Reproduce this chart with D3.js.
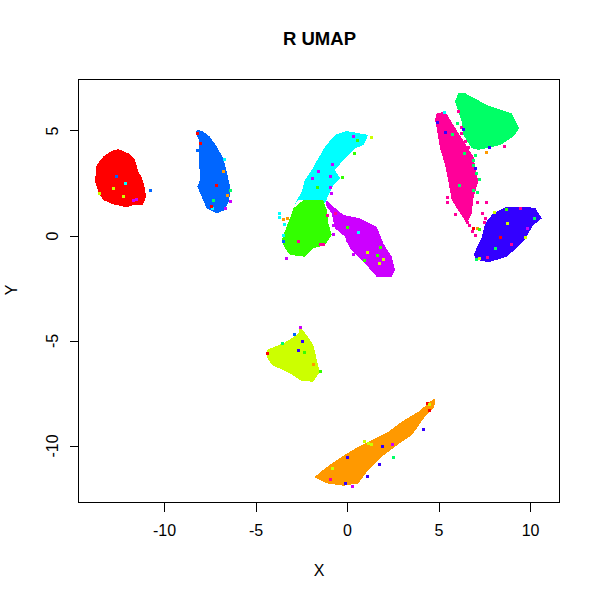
<!DOCTYPE html>
<html><head><meta charset="utf-8">
<script src="https://cdn.jsdelivr.net/npm/d3@7"></script>
<style>html,body{margin:0;background:#fff}svg{display:block}text{font-family:"Liberation Sans",Arial,sans-serif;fill:#000}</style>
</head><body><svg id="c" width="600" height="600"></svg>
<script>
const titleText = "R UMAP", xLabel = "X", yLabel = "Y";
const xTicks = [-10,-5,0,5,10], yTicks = [-10,-5,0,5];
const xDomain = [-14.67,11.58], yDomain = [-12.69,7.476];
// rainbow(10)
const palette = ["#FF0000","#FF9900","#CCFF00","#33FF00","#00FF66","#00FFFF","#0066FF","#3300FF","#CC00FF","#FF0099"];
const RED=0,ORA=1,YEL=2,GRN=3,SPR=4,CYA=5,BLU=6,IND=7,PUR=8,PNK=9;
// cluster extents: [x, y]
const redCluster = [[-12.5,4.14],[-11.95,3.94],[-11.58,3.62],[-11.4,3.06],[-11.22,2.82],[-11.04,2.27],[-10.98,1.87],[-11.16,1.48],[-11.68,1.48],[-12.04,1.37],[-12.77,1.51],[-13.32,1.71],[-13.59,2.11],[-13.77,2.59],[-13.68,3.38],[-13.32,3.78],[-12.86,4.05]];
const blueCluster = [[-8.21,5.08],[-7.85,4.97],[-7.49,4.73],[-7.12,4.25],[-6.76,3.7],[-6.57,3.06],[-6.39,2.35],[-6.43,1.71],[-6.67,1.24],[-7.12,1.08],[-7.67,1.32],[-7.94,1.87],[-8.18,2.35],[-8.03,2.67],[-8.09,3.78],[-8.09,4.57],[-8.25,4.89]];
const cyanCluster = [[-0.02,5],[1.16,4.81],[0.89,4.33],[0.44,4.18],[-0.2,3.62],[-0.66,3.14],[-0.38,2.75],[-0.75,2.43],[-1.02,1.95],[-1.2,1.56],[-1.84,1.71],[-2.66,1.71],[-2.93,1.4],[-2.48,2.11],[-2.3,2.67],[-1.93,3.14],[-1.57,3.7],[-1.2,4.25],[-0.66,4.81]];
const purpleCluster = [[-1.2,1.75],[-0.75,1.4],[-0.2,1],[0.71,0.84],[1.62,0.44],[1.98,-0.35],[2.44,-0.99],[2.62,-1.62],[2.44,-1.94],[1.62,-1.94],[0.89,-1.22],[0.16,-0.59],[-0.11,-0.03],[-0.66,0.37],[-0.84,1.08],[-1.11,1.4]];
const greenCluster = [[-2.93,1.32],[-2.39,1.71],[-1.3,1.71],[-1.11,1.24],[-1.02,0.6],[-0.84,0.05],[-1.2,-0.43],[-1.84,-0.59],[-2.3,-0.99],[-3.11,-0.9],[-3.39,-0.59],[-3.57,-0.19],[-3.3,0.44],[-3.02,1.08]];
const springCluster = [[6.08,6.8],[6.45,6.8],[7.63,6.24],[9,5.84],[9.4,5.13],[9.09,4.73],[8.36,4.33],[7.63,4.18],[7.17,4.1],[6.81,4.18],[6.36,4.81],[6.27,5.44],[5.9,6.4]];
const pinkCluster = [[4.9,5.84],[5.36,5.92],[5.81,5.29],[6.27,4.65],[6.9,3.78],[7.17,2.59],[6.9,1.8],[6.81,1.08],[6.54,0.6],[6.36,0.84],[5.72,1.71],[5.54,2.59],[5.36,3.38],[5.08,4.18],[4.9,5.13],[4.81,5.52]];
const indigoCluster = [[7.99,1.08],[8.73,1.4],[10.27,1.35],[10.64,0.84],[10.18,0.52],[9.63,-0.27],[8.73,-0.99],[7.72,-1.25],[7.09,-1.14],[6.91,-0.9],[7.37,-0.03],[7.54,0.6]];
const yellowCluster = [[-2.57,-4.35],[-2.2,-4.71],[-1.84,-5.19],[-1.57,-6.22],[-1.48,-6.46],[-1.84,-6.94],[-2.48,-6.9],[-3.11,-6.54],[-4.11,-6.14],[-4.39,-5.75],[-4.39,-5.43],[-3.48,-5.11],[-3.02,-4.87],[-2.66,-4.63]];
const orangeCluster = [[4.81,-7.73],[4.77,-8.13],[4.26,-8.6],[3.54,-9.48],[2.99,-9.8],[1.9,-10.51],[1.16,-11.14],[0.62,-11.78],[-0.2,-11.89],[-1.11,-11.78],[-1.79,-11.49],[-1.2,-11.06],[-0.29,-10.51],[0.62,-10.03],[2.26,-9.32],[2.99,-8.84],[3.9,-8.37],[4.54,-7.89]];
const clusterOrder = [[redCluster,RED],[blueCluster,BLU],[purpleCluster,PUR],[cyanCluster,CYA],[greenCluster,GRN],[springCluster,SPR],[pinkCluster,PNK],[indigoCluster,IND],[yellowCluster,YEL],[orangeCluster,ORA]];
// individual off-cluster points: [x, y, colour index]
const strayPoints = [
[-10.77,2.19,BLU],[-11.68,1.71,PUR],[-11.53,1.78,PUR],[-12.62,2.86,BLU],[-12.13,2.54,CYA],[-12.8,2.27,YEL],[-12.26,1.9,YEL],[-13.55,2.03,YEL],
[-7.17,2.44,RED],[-8.21,4.89,RED],[-8.03,4.41,RED],[-8.21,4.1,BLU],[-7.34,1.71,SPR],[-6.39,1.67,PUR],[-6.39,2.19,SPR],[-6.57,1.94,ORA],[-6.67,1.35,PUR],[-7.39,1.35,CYA],[-6.72,3.67,CYA],[-6.79,3.11,ORA],[-7.45,1.43,RED],
[1.3,4.73,YEL],[-0.84,3.41,PUR],[-1.93,2.78,PUR],[-0.93,2.87,PUR],[-1.6,3.1,PUR],[-0.93,2.35,PUR],[-0.87,2.06,PUR],[0.53,4.57,GRN],[0.4,3.97,GRN],[-1.66,2.35,GRN],[-0.29,2.8,GRN],[0.34,4.76,PUR],
[-3.7,1.11,CYA],[-3.44,0.57,CYA],[-3.7,0.89,CYA],[-3.51,0.82,ORA],[-3.3,0.87,ORA],[-1.08,1,PNK],[-1.48,-0.38,PNK],[-1.3,-0.38,PNK],[-0.66,1.08,PNK],
[0.02,0.44,GRN],[1.8,-0.51,GRN],[0.93,-1.14,GRN],[1.62,-0.9,GRN],[1.08,-0.75,YEL],[1.98,-1.11,YEL],[1.73,-1.27,YEL],[0.58,0.19,CYA],[-3.35,-1.06,PUR],[-0.78,0.52,PUR],[-0.75,0.1,PUR],[-3.48,-0.22,BLU],[-3.48,0.05,CYA],[-2.66,-0.22,PNK],
[-0.4,0.6,PUR],[0,-0.2,PUR],[0.3,-0.85,PUR],[-0.3,0.3,PUR],[-0.55,0.75,PUR],[0.3,0.3,PUR],
[5.3,5.89,CYA],[6.03,5.37,SPR],[5.74,4.86,SPR],[6.41,3.94,SPR],[6.1,2.43,SPR],[6.9,3.38,SPR],[7.12,2.11,SPR],[6.9,2.19,SPR],[4.9,5.44,IND],[5.36,4.97,IND],[6.99,3.22,IND],
[6.9,3.6,SPR],[7.05,3,SPR],[7.2,2.7,SPR],[7,3.85,SPR],[6.25,5.2,PNK],[6.2,4.9,PNK],[6.45,4.5,PNK],[6.6,4.25,PNK],
[7.6,1.6,PNK],[5.9,1.03,PNK],[5.45,1.87,PNK],[7.39,1.08,PNK],[7.54,0.84,PNK],[7.5,0.68,PNK],[6.9,0.37,RED],[6.81,0.25,PNK],[6.99,0.05,PNK],[6.68,0.52,PNK],[6.57,0.68,PNK],[7.09,1.6,PNK],[5.48,1.63,PNK],[7.09,0.4,ORA],[7.6,4.01,ORA],[8.03,1.16,YEL],[7.21,0.32,GRN],[7.76,4.24,IND],[6.36,5.08,IND],[8.58,4.3,PNK],[6.08,5.97,PNK],
[9.45,1.35,PNK],[8.69,1.29,GRN],[8.95,-0.38,PNK],[9.73,-0.03,YEL],[8.76,0.6,YEL],[9.85,0.4,PUR],[8.09,-0.56,SPR],[7.67,-0.99,PNK],[7.21,-1.06,YEL],[7.05,-1.1,SPR],[8.36,-0.03,RED],[10.22,0.87,SPR],
[-4.39,-5.56,RED],[-2.69,-5.43,IND],[-2.48,-4.99,IND],[-3.57,-5.08,SPR],[-2.35,-5.51,GRN],[-1.87,-6.11,ORA],[-2.57,-4.32,PUR],[-2.9,-4.67,BLU],[-1.48,-6.41,GRN],
[4.48,-8.29,RED],[4.37,-7.94,RED],[4.48,-8,YEL],[1.13,-9.87,YEL],[0.95,-9.75,YEL],[1.3,-9.92,YEL],[2.44,-9.9,PUR],[1.9,-10,IND],[2.5,-10.51,SPR],[4.17,-9.19,IND],[1.75,-10.86,IND],[-0.02,-10.51,IND],[1.08,-11.41,IND],[-0.11,-11.78,IND],[0.26,-11.89,PUR],[-0.84,-11.03,YEL],[-0.93,-11.59,PNK]
];

const svg = d3.select("#c");
const boxL=78.5,boxR=559,boxT=79,boxB=502.5;
const x = d3.scaleLinear().domain(xDomain).range([boxL,boxR]);
const y = d3.scaleLinear().domain(yDomain).range([boxB,boxT]);
const line = d3.line().x(d=>x(d[0])).y(d=>y(d[1])).curve(d3.curveLinearClosed);

svg.append("g").selectAll("path").data(clusterOrder).join("path")
  .attr("d",d=>line(d[0])).attr("fill",d=>palette[d[1]]).attr("shape-rendering","crispEdges");
svg.append("g").selectAll("rect").data(strayPoints).join("rect")
  .attr("x",d=>Math.round(x(d[0]))-1).attr("y",d=>Math.round(y(d[1]))-1).attr("width",3).attr("height",3)
  .attr("fill",d=>palette[d[2]]);

svg.append("rect").attr("x",boxL).attr("y",boxT).attr("width",boxR-boxL).attr("height",boxB-boxT)
  .attr("fill","none").attr("stroke","#000").attr("shape-rendering","crispEdges");

const fontSize=16;
const gx = svg.append("g").attr("transform",`translate(0,${boxB})`)
  .call(d3.axisBottom(x).tickValues(xTicks).tickSize(9).tickPadding(13).tickFormat(String));
gx.select(".domain").remove();
gx.selectAll("text").attr("font-size",fontSize).style("font-family",'"Liberation Sans"');
gx.selectAll("line").attr("stroke","#000").attr("shape-rendering","crispEdges");
const gy = svg.append("g").attr("transform",`translate(${boxL},0)`)
  .call(d3.axisLeft(y).tickValues(yTicks).tickSize(9).tickFormat(String));
gy.select(".domain").remove();
gy.selectAll("line").attr("stroke","#000").attr("shape-rendering","crispEdges");
gy.selectAll("text").attr("font-size",fontSize).style("font-family",'"Liberation Sans"')
  .attr("text-anchor","middle").attr("dy",null).attr("x",null)
  .attr("transform",d=>`translate(-26,${y(d)}) rotate(-90)`).attr("y",0).attr("dy","0.32em");
gy.selectAll(".tick").attr("transform",null);
gy.selectAll(".tick line").attr("transform",d=>`translate(0,${y(d)})`);

svg.append("text").attr("x",319.5).attr("y",45).attr("text-anchor","middle").attr("font-size",18.5).attr("font-weight","bold").text(titleText);
svg.append("text").attr("x",319).attr("y",576).attr("text-anchor","middle").attr("font-size",fontSize).text(xLabel);
svg.append("text").attr("transform","translate(17,290) rotate(-90)").attr("text-anchor","middle").attr("font-size",fontSize).text(yLabel);
</script></body></html>
